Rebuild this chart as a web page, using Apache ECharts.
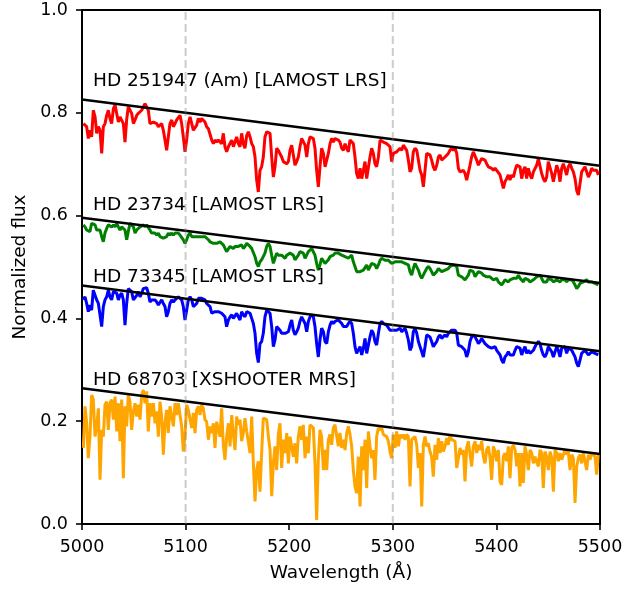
<!DOCTYPE html>
<html>
<head>
<meta charset="utf-8">
<script src="https://cdn.jsdelivr.net/npm/echarts@6/dist/echarts.min.js"></script>
<style>
  html, body { margin: 0; padding: 0; background: #fff; }
  #chart { width: 639px; height: 589px; }
</style>
</head>
<body>
<div id="chart"></div>
<script>
  // wavelength grid (Angstrom)
  const wave = [
    5001.3,5002.9,5004.5,5006.1,5007.7,5009.3,5010.9,5012.6,5014.2,5015.8,
    5017.4,5019.0,5020.6,5022.2,5023.8,5025.4,5027.0,5028.6,5030.3,5031.9,
    5033.5,5035.1,5036.7,5038.3,5039.9,5041.5,5043.1,5044.7,5046.3,5047.9,
    5049.6,5051.2,5052.8,5054.4,5056.0,5057.6,5059.2,5060.8,5062.4,5064.0,
    5065.6,5067.2,5068.9,5070.5,5072.1,5073.7,5075.3,5076.9,5078.5,5080.1,
    5081.7,5083.3,5084.9,5086.6,5088.2,5089.8,5091.4,5093.0,5094.6,5096.2,
    5097.8,5099.4,5101.0,5102.6,5104.3,5105.9,5107.5,5109.1,5110.7,5112.3,
    5113.9,5115.5,5117.1,5118.7,5120.3,5122.0,5123.6,5125.2,5126.8,5128.4,
    5130.0,5131.6,5133.2,5134.8,5136.4,5138.0,5139.6,5141.3,5142.9,5144.5,
    5146.1,5147.7,5149.3,5150.9,5152.5,5154.1,5155.7,5157.3,5159.0,5160.6,
    5162.2,5163.8,5165.4,5167.0,5168.6,5170.2,5171.8,5173.4,5175.0,5176.6,
    5178.3,5179.9,5181.5,5183.1,5184.7,5186.3,5187.9,5189.5,5191.1,5192.7,
    5194.4,5196.0,5197.6,5199.2,5200.8,5202.4,5204.0,5205.6,5207.2,5208.8,
    5210.4,5212.0,5213.6,5215.3,5216.9,5218.5,5220.1,5221.7,5223.3,5224.9,
    5226.5,5228.1,5229.7,5231.3,5233.0,5234.6,5236.2,5237.8,5239.4,5241.0,
    5242.6,5244.2,5245.8,5247.4,5249.0,5250.7,5252.3,5253.9,5255.5,5257.1,
    5258.7,5260.3,5261.9,5263.5,5265.1,5266.7,5268.4,5270.0,5271.6,5273.2,
    5274.8,5276.4,5278.0,5279.6,5281.2,5282.8,5284.4,5286.1,5287.7,5289.3,
    5290.9,5292.5,5294.1,5295.7,5297.3,5298.9,5300.5,5302.1,5303.7,5305.4,
    5307.0,5308.6,5310.2,5311.8,5313.4,5315.0,5316.6,5318.2,5319.8,5321.4,
    5323.1,5324.7,5326.3,5327.9,5329.5,5331.1,5332.7,5334.3,5335.9,5337.5,
    5339.1,5340.7,5342.4,5344.0,5345.6,5347.2,5348.8,5350.4,5352.0,5353.6,
    5355.2,5356.8,5358.4,5360.1,5361.7,5363.3,5364.9,5366.5,5368.1,5369.7,
    5371.3,5372.9,5374.5,5376.1,5377.7,5379.4,5381.0,5382.6,5384.2,5385.8,
    5387.4,5389.0,5390.6,5392.2,5393.8,5395.4,5397.1,5398.7,5400.3,5401.9,
    5403.5,5405.1,5406.7,5408.3,5409.9,5411.5,5413.1,5414.8,5416.4,5418.0,
    5419.6,5421.2,5422.8,5424.4,5426.0,5427.6,5429.2,5430.8,5432.5,5434.1,
    5435.7,5437.3,5438.9,5440.5,5442.1,5443.7,5445.3,5446.9,5448.5,5450.1,
    5451.8,5453.4,5455.0,5456.6,5458.2,5459.8,5461.4,5463.0,5464.6,5466.2,
    5467.8,5469.4,5471.1,5472.7,5474.3,5475.9,5477.5,5479.1,5480.7,5482.3,
    5483.9,5485.5,5487.1,5488.8,5490.4,5492.0,5493.6,5495.2,5496.8,5498.4
  ]

  // HD 251947 (Am) [LAMOST LRS]
  const fluxRed = [
    .779,.782,.773,.750,.766,.753,.805,.792,.760,.773,
    .766,.721,.773,.779,.795,.805,.789,.779,.808,.815,
    .812,.782,.792,.795,.779,.743,.786,.812,.815,.799,
    .779,.786,.795,.799,.802,.805,.808,.818,.818,.805,
    .779,.782,.782,.782,.779,.773,.773,.779,.766,.747,
    .727,.753,.779,.786,.773,.779,.786,.789,.795,.779,
    .753,.724,.747,.779,.792,.789,.766,.763,.776,.789,
    .782,.789,.792,.782,.773,.769,.766,.747,.740,.747,
    .743,.747,.750,.740,.760,.734,.724,.734,.737,.747,
    .734,.737,.753,.740,.734,.760,.740,.731,.756,.763,
    .753,.740,.734,.714,.669,.646,.688,.695,.714,.753,
    .763,.763,.760,.714,.675,.695,.731,.727,.724,.714,
    .705,.708,.701,.705,.727,.737,.718,.698,.705,.714,
    .734,.750,.753,.737,.714,.740,.753,.756,.750,.731,
    .688,.656,.695,.731,.721,.695,.692,.721,.740,.750,
    .743,.750,.747,.747,.743,.731,.727,.740,.731,.724,
    .747,.750,.740,.714,.682,.672,.692,.672,.688,.705,
    .672,.669,.714,.731,.721,.701,.695,.714,.747,.747,
    .743,.743,.740,.740,.734,.705,.721,.721,.724,.724,
    .731,.727,.737,.740,.727,.708,.685,.692,.724,.731,
    .727,.708,.688,.679,.656,.688,.721,.724,.718,.708,
    .695,.688,.698,.714,.718,.708,.711,.714,.711,.721,
    .727,.731,.727,.731,.721,.692,.685,.688,.688,.682,
    .669,.672,.698,.714,.724,.721,.708,.698,.705,.711,
    .714,.708,.701,.695,.698,.692,.688,.692,.688,.688,
    .679,.666,.653,.666,.672,.679,.669,.679,.675,.688,
    .698,.701,.695,.672,.688,.695,.672,.692,.679,.672,
    .685,.688,.698,.711,.708,.682,.672,.666,.675,.705,
    .708,.682,.666,.682,.698,.688,.666,.692,.701,.698,
    .679,.695,.701,.692,.685,.672,.649,.640,.662,.685,
    .688,.695,.692,.675,.682,.692,.688,.685,.688,.679
  ]

  // HD 23734 [LAMOST LRS]
  const fluxGreen = [
    .582,.578,.572,.575,.569,.585,.588,.582,.572,.569,
    .572,.559,.549,.566,.575,.582,.585,.578,.582,.578,
    .585,.578,.572,.578,.575,.572,.553,.569,.585,.582,
    .578,.566,.572,.575,.578,.575,.582,.578,.582,.582,
    .572,.566,.569,.566,.562,.566,.559,.562,.556,.553,
    .559,.566,.562,.566,.562,.566,.569,.566,.562,.559,
    .553,.546,.553,.562,.566,.559,.556,.559,.562,.559,
    .562,.559,.556,.559,.556,.553,.549,.546,.546,.543,
    .546,.543,.549,.546,.543,.540,.530,.533,.540,.543,
    .536,.540,.543,.540,.543,.543,.536,.540,.546,.549,
    .540,.536,.533,.520,.507,.501,.510,.514,.517,.527,
    .540,.546,.540,.523,.507,.517,.527,.523,.520,.523,
    .520,.517,.523,.520,.527,.530,.523,.514,.517,.523,
    .530,.533,.527,.517,.520,.530,.533,.536,.533,.523,
    .507,.494,.504,.517,.514,.507,.504,.514,.520,.523,
    .523,.527,.528,.527,.527,.523,.523,.520,.520,.517,
    .520,.523,.510,.501,.491,.488,.491,.488,.494,.497,
    .504,.494,.497,.507,.510,.504,.497,.504,.513,.517,
    .517,.513,.513,.513,.510,.507,.507,.510,.510,.510,
    .513,.510,.510,.507,.507,.504,.491,.484,.497,.507,
    .504,.494,.484,.478,.481,.491,.497,.501,.497,.491,
    .484,.481,.491,.497,.494,.491,.494,.494,.497,.497,
    .501,.504,.504,.507,.501,.484,.481,.481,.478,.475,
    .478,.484,.494,.497,.491,.481,.484,.491,.491,.488,
    .484,.484,.481,.481,.481,.478,.475,.475,.478,.471,
    .468,.465,.468,.475,.475,.471,.475,.475,.478,.475,
    .478,.484,.478,.475,.471,.478,.478,.475,.471,.471,
    .475,.478,.481,.481,.484,.478,.471,.468,.471,.478,
    .481,.475,.471,.471,.475,.475,.471,.475,.475,.475,
    .471,.475,.478,.475,.471,.465,.458,.462,.468,.471,
    .471,.471,.475,.471,.471,.471,.468,.468,.467,.465
  ]

  // HD 73345 [LAMOST LRS]
  const fluxBlue = [
    .436,.442,.429,.413,.426,.416,.455,.458,.436,.429,
    .429,.384,.423,.436,.442,.455,.442,.436,.452,.455,
    .449,.436,.445,.449,.436,.387,.429,.458,.460,.452,
    .436,.436,.445,.452,.442,.449,.458,.460,.460,.449,
    .432,.436,.436,.436,.432,.426,.429,.436,.429,.423,
    .403,.413,.429,.436,.432,.436,.436,.442,.442,.436,
    .423,.397,.416,.436,.442,.436,.423,.423,.429,.439,
    .436,.439,.439,.436,.429,.426,.423,.410,.407,.413,
    .410,.413,.410,.410,.413,.403,.384,.397,.403,.407,
    .400,.400,.410,.403,.397,.413,.407,.403,.413,.416,
    .410,.400,.390,.371,.332,.314,.351,.355,.371,.403,
    .416,.416,.410,.384,.345,.358,.384,.381,.377,.371,
    .368,.371,.368,.374,.387,.397,.377,.368,.374,.381,
    .394,.403,.403,.390,.374,.394,.403,.407,.403,.384,
    .351,.325,.358,.381,.374,.355,.351,.374,.387,.394,
    .390,.394,.394,.397,.397,.390,.384,.387,.384,.390,
    .394,.390,.371,.345,.332,.329,.345,.329,.342,.361,
    .332,.332,.364,.377,.371,.355,.348,.371,.390,.394,
    .390,.387,.387,.384,.377,.374,.377,.374,.377,.374,
    .381,.374,.377,.381,.371,.358,.338,.345,.374,.381,
    .371,.355,.345,.335,.325,.345,.368,.371,.364,.355,
    .345,.342,.355,.364,.368,.361,.364,.368,.364,.371,
    .374,.377,.377,.377,.371,.348,.345,.345,.342,.338,
    .325,.335,.355,.364,.368,.364,.358,.351,.355,.361,
    .358,.351,.348,.345,.345,.342,.342,.345,.338,.335,
    .329,.319,.313,.325,.329,.335,.329,.332,.329,.338,
    .345,.345,.342,.329,.338,.345,.332,.338,.332,.329,
    .338,.345,.351,.355,.351,.338,.329,.325,.332,.345,
    .348,.335,.325,.335,.345,.338,.325,.342,.345,.345,
    .332,.342,.345,.338,.335,.325,.313,.306,.319,.332,
    .335,.338,.335,.329,.332,.335,.332,.332,.331,.329
  ]

  // HD 68703 [XSHOOTER MRS]
  const fluxOrange = [
    .148,.229,.196,.128,.170,.251,.242,.170,.190,.225,
    .086,.183,.170,.232,.238,.183,.235,.242,.203,.248,
    .180,.235,.161,.242,.089,.229,.190,.251,.238,.183,
    .219,.235,.209,.232,.203,.251,.261,.235,.258,.180,
    .235,.209,.235,.196,.219,.170,.238,.209,.135,.196,
    .222,.177,.229,.209,.190,.235,.212,.235,.232,.190,
    .141,.170,.232,.222,.225,.187,.216,.177,.222,.229,
    .212,.232,.225,.203,.199,.164,.190,.177,.196,.148,
    .199,.196,.170,.225,.154,.125,.170,.196,.151,.212,
    .174,.144,.209,.193,.203,.161,.177,.206,.180,.183,
    .138,.209,.118,.044,.105,.122,.063,.138,.206,.209,
    .203,.170,.144,.054,.118,.151,.105,.174,.196,.109,
    .164,.138,.177,.118,.170,.167,.131,.157,.118,.170,
    .190,.164,.193,.128,.170,.138,.193,.196,.187,.118,
    .008,.125,.183,.170,.105,.144,.105,.164,.174,.154,
    .187,.193,.190,.151,.177,.148,.164,.144,.177,.190,
    .174,.151,.105,.073,.060,.131,.034,.151,.105,.164,
    .070,.180,.151,.128,.144,.086,.170,.187,.183,.187,
    .174,.177,.170,.161,.141,.128,.174,.148,.180,.151,
    .174,.167,.174,.164,.174,.170,.073,.164,.167,.170,
    .154,.109,.138,.034,.154,.170,.151,.157,.141,.131,
    .092,.154,.125,.167,.138,.161,.141,.151,.167,.154,
    .174,.164,.167,.161,.109,.112,.148,.135,.144,.083,
    .148,.161,.164,.112,.151,.161,.138,.154,.144,.161,
    .131,.118,.144,.151,.131,.086,.151,.141,.122,.144,
    .083,.076,.131,.138,.122,.151,.089,.148,.154,.144,
    .112,.138,.073,.138,.080,.151,.135,.105,.144,.138,
    .118,.131,.128,.112,.144,.138,.070,.141,.131,.105,
    .141,.128,.063,.144,.138,.122,.138,.125,.122,.144,
    .135,.141,.105,.135,.128,.041,.112,.128,.135,.118,
    .138,.122,.105,.135,.125,.138,.135,.131,.096,.138
  ]

  // continuum lines: flux at 5000 and 5500
  const contWave = [5000, 5500]
  const contRed = [0.826, 0.697]
  const contGreen = [0.596, 0.469]
  const contBlue = [0.464, 0.336]
  const contOrange = [0.264, 0.136]

  const dashedAt = [5100, 5300]
  const xTicks = [5000, 5100, 5200, 5300, 5400, 5500]
  const yTicks = [0.0, 0.2, 0.4, 0.6, 0.8, 1.0]

  // label text and the pixel row of its middle
  const labels = [
    {text: 'HD 251947 (Am) [LAMOST LRS]', y: 80},
    {text: 'HD 23734 [LAMOST LRS]', y: 204},
    {text: 'HD 73345 [LAMOST LRS]', y: 276},
    {text: 'HD 68703 [XSHOOTER MRS]', y: 379}
  ]

  const font = 'DejaVu Sans'
  const fs = 17.5      // tick labels
  const fsBig = 18.5   // axis names and star labels

  function spec(flux, color) {
    return {
      type: 'line',
      data: wave.map((w, i) => [w, flux[i]]),
      showSymbol: false,
      symbol: 'none',
      lineStyle: {color: color, width: 3},
      z: 2
    }
  }

  function cont(vals) {
    return {
      type: 'line',
      data: contWave.map((w, i) => [w, vals[i]]),
      showSymbol: false,
      symbol: 'none',
      lineStyle: {color: '#000', width: 2.5},
      z: 3
    }
  }

  const series = [
    spec(fluxRed, '#ff0000'),
    spec(fluxGreen, '#008000'),
    spec(fluxBlue, '#0000ff'),
    spec(fluxOrange, '#ffa500'),
    cont(contRed),
    cont(contGreen),
    cont(contBlue),
    cont(contOrange)
  ]
  dashedAt.forEach((x) => {
    series.push({
      type: 'line',
      data: [[x, 0], [x, 1]],
      showSymbol: false,
      symbol: 'none',
      lineStyle: {color: 'rgba(128,128,128,0.4)', width: 2, type: [8, 4]},
      z: 4
    })
  })

  const chart = echarts.init(document.getElementById('chart'), null, {renderer: 'canvas'})
  chart.setOption({
    animation: false,
    backgroundColor: '#fff',
    grid: {
      left: 82, top: 10, width: 518, height: 514,
      show: true, borderColor: '#000', borderWidth: 2, backgroundColor: 'transparent'
    },
    xAxis: {
      type: 'value',
      min: xTicks[0], max: xTicks[xTicks.length - 1], interval: 100,
      name: 'Wavelength (Å)',
      nameLocation: 'middle',
      nameGap: 40,
      nameTextStyle: {color: '#000', fontSize: fsBig, fontFamily: font},
      axisLine: {show: true, lineStyle: {color: '#000', width: 2}},
      axisTick: {show: true, length: 6, lineStyle: {color: '#000', width: 1.6}},
      axisLabel: {
        color: '#000', fontSize: fs, fontFamily: font, margin: 14,
        formatter: (v) => String(v)
      },
      splitLine: {show: false}
    },
    yAxis: {
      type: 'value',
      min: yTicks[0], max: yTicks[yTicks.length - 1], interval: 0.2,
      name: 'Normalized flux',
      nameLocation: 'middle',
      nameGap: 50,
      nameTextStyle: {color: '#000', fontSize: fsBig, fontFamily: font},
      axisLine: {show: true, lineStyle: {color: '#000', width: 2}},
      axisTick: {show: true, length: 6, lineStyle: {color: '#000', width: 1.6}},
      axisLabel: {
        color: '#000', fontSize: fs, fontFamily: font, margin: 14,
        formatter: (v) => v.toFixed(1)
      },
      splitLine: {show: false}
    },
    graphic: labels.map((l) => ({
      type: 'text',
      left: 93,
      top: l.y - 8.5,
      z: 10,
      style: {text: l.text, fill: '#000', font: fsBig + 'px "' + font + '"'}
    })),
    series: series
  })
</script>
</body>
</html>
